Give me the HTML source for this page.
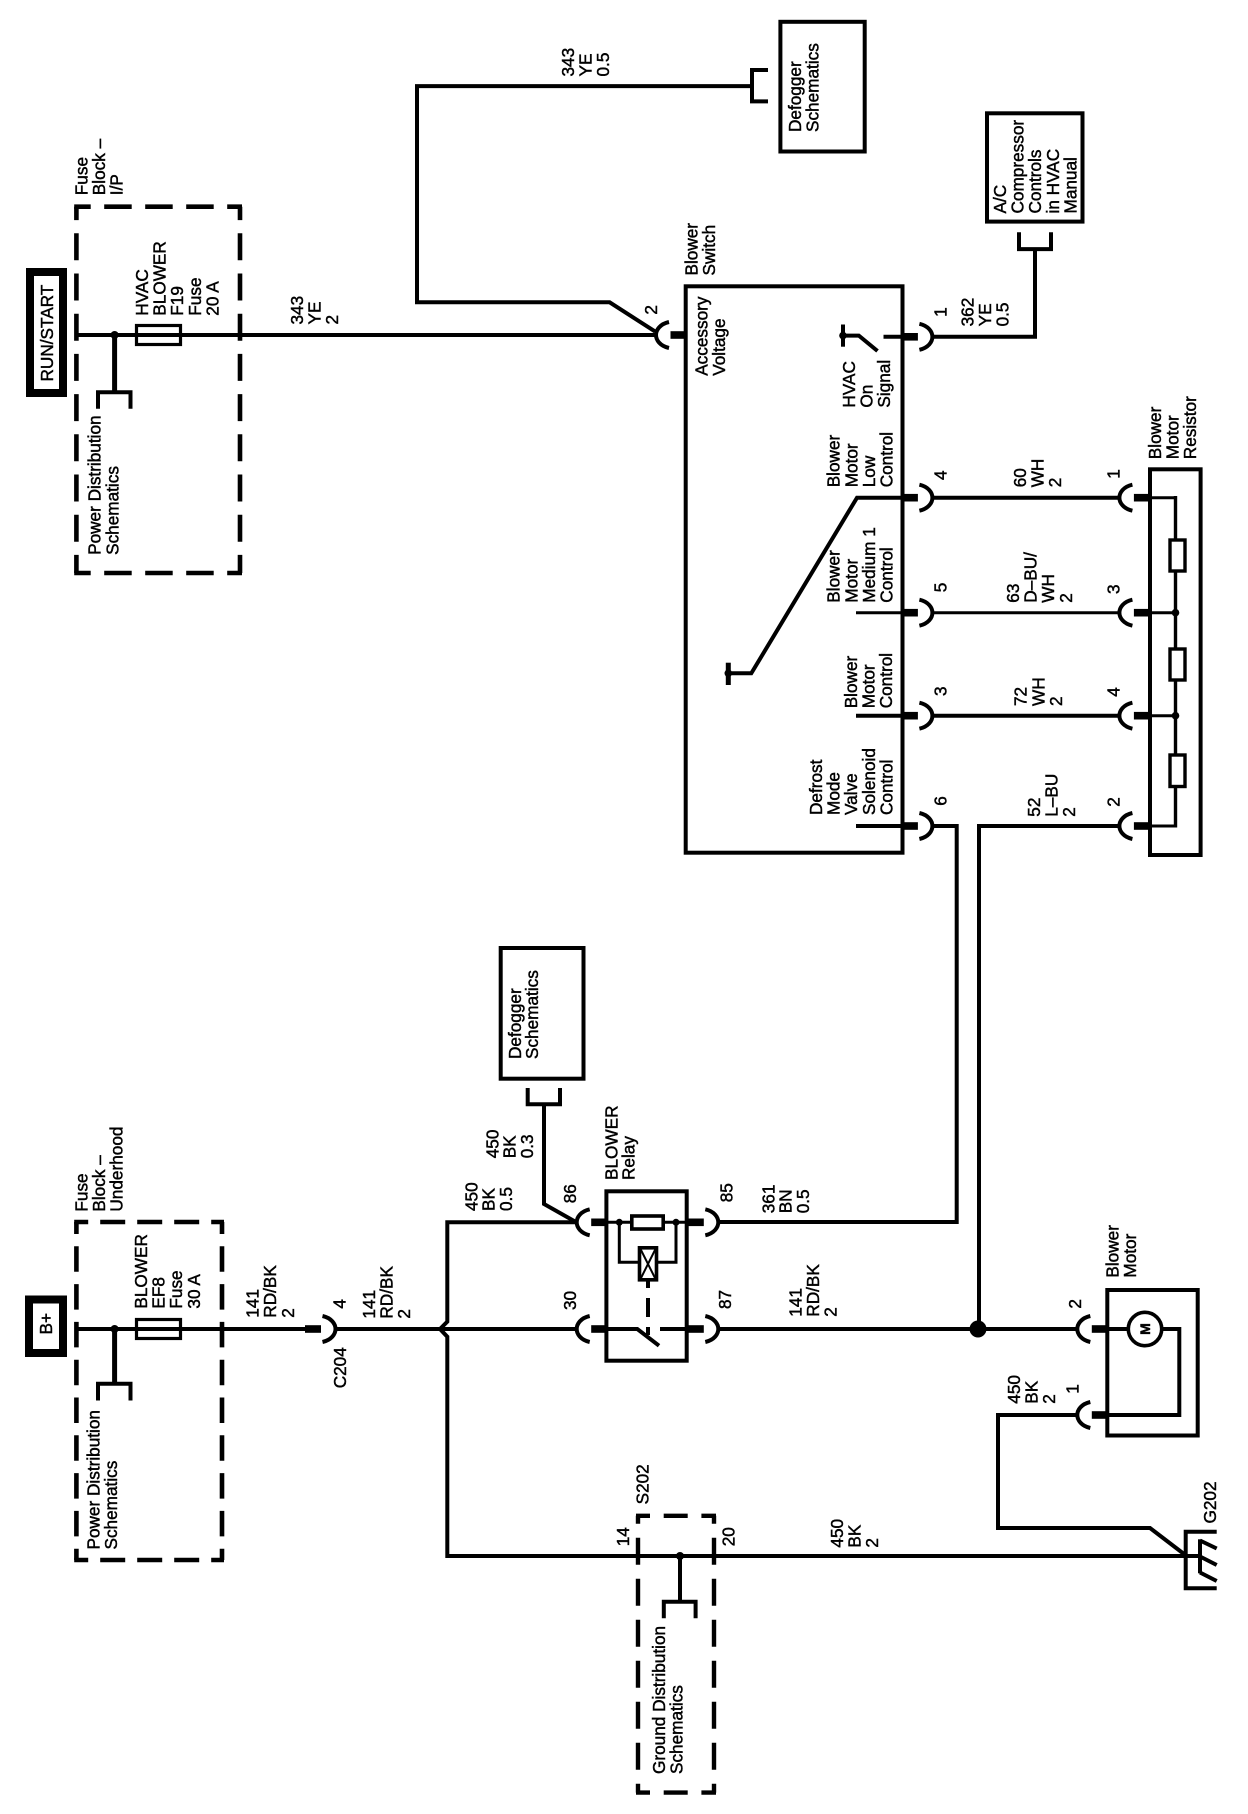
<!DOCTYPE html>
<html><head><meta charset="utf-8"><title>Blower wiring schematic</title>
<style>
html,body{margin:0;padding:0;background:#fff}
svg{display:block}
text{font-family:"Liberation Sans",sans-serif;font-size:17.2px;fill:#000;stroke:#000;stroke-width:.45}
.w{fill:none;stroke:#000;stroke-width:4;stroke-linejoin:miter}
.t{fill:none;stroke:#000;stroke-width:3}
.b{fill:#fff;stroke:#000;stroke-width:4}
</style></head><body>
<svg width="1248" height="1814" viewBox="0 0 1248 1814" xmlns="http://www.w3.org/2000/svg">
<defs>
<g id="cl"><path d="M13,-13 C4,-11 0,-5 0,0 C0,5 4,11 13,13" fill="none" stroke="#000" stroke-width="4"/><rect x="14.5" y="-3.8" width="16" height="7.6"/></g>
<g id="cr"><path d="M-13,-13 C-4,-11 0,-5 0,0 C0,5 -4,11 -13,13" fill="none" stroke="#000" stroke-width="4"/><rect x="-30.5" y="-3.8" width="16" height="7.6"/></g>
</defs>
<rect width="1248" height="1814" fill="#fff"/>

<!-- upper fuse block -->
<rect x="30" y="272" width="33" height="121" fill="#fff" stroke="#000" stroke-width="8"/>
<g class="w" style="stroke-width:4.6">
<path d="M76.4,206.7V573" stroke-dasharray="27 13.2" stroke-dashoffset="13.6"/>
<path d="M240,206.7V573" stroke-dasharray="27 13.2" stroke-dashoffset="13.6"/>
<path d="M74.2,206.7H242" stroke-dasharray="27.5 13.5" stroke-dashoffset="11"/>
<path d="M74.2,573H242" stroke-dasharray="27.5 13.5" stroke-dashoffset="11"/>
</g>
<path class="w" d="M76,335H656"/>
<rect class="b" style="stroke-width:3.2;fill:none" x="136.5" y="325.5" width="44" height="19"/>
<circle cx="114.6" cy="335" r="4"/>
<path class="w" style="stroke-width:5" d="M114.6,335V392"/>
<path class="w" d="M98,408.7V392.3H130.5V408.7"/>

<!-- top wires -->
<path class="w" d="M768,70H752V101.4H768"/>
<path class="w" d="M752,86.1H417V302.3H609.6L655,331.4"/>
<rect class="b" x="780.4" y="21.8" width="84.3" height="129.7"/>
<rect class="b" x="987" y="113.3" width="95.5" height="108.3"/>
<path class="w" d="M1019,232.3V249.1H1051V232.3"/>
<path class="w" d="M1035,249V336.8H932"/>

<!-- blower switch -->
<rect class="b" x="685.7" y="286.3" width="216.8" height="566.4"/>
<use href="#cl" x="656" y="335"/>
<use href="#cr" x="932.4" y="336.8"/>
<use href="#cr" x="932.4" y="497.7"/>
<use href="#cr" x="932.4" y="612.7"/>
<use href="#cr" x="932.4" y="715.7"/>
<use href="#cr" x="932.4" y="826"/>
<path class="w" d="M883.5,336.8H903"/>
<path class="w" d="M843,324.5V346.7"/><circle cx="843" cy="335.6" r="3.8"/>
<path class="w" d="M843,335.6H858.8L877.5,351"/>
<path class="w" d="M903,497.7H857L751.3,673.3H728"/>
<path class="w" style="stroke-width:5" d="M728.3,662.7V685"/><circle cx="728.3" cy="673.3" r="3.8"/>
<path class="t" d="M856,612.7H903"/>
<path class="w" d="M856,715.7H903"/>
<path class="w" d="M856,826H903"/>

<!-- switch to resistor wires -->
<path class="w" d="M932,497.7H1119"/>
<path class="t" d="M932,612.7H1119"/>
<path class="w" d="M932,715.7H1119"/>
<path class="w" d="M932,826H956.7V1222H718"/>
<path class="w" d="M1119,826H979V1329"/>

<!-- blower motor resistor -->
<rect class="b" x="1150" y="469.3" width="50.6" height="385.7"/>
<use href="#cl" x="1119.4" y="497.7"/>
<use href="#cl" x="1119.4" y="612.7"/>
<use href="#cl" x="1119.4" y="715.7"/>
<use href="#cl" x="1119.4" y="826"/>
<path class="t" d="M1150,497.7H1175.5"/>
<path class="t" d="M1150,612.7H1175.5"/>
<path class="t" d="M1150,715.7H1175.5"/>
<path class="t" d="M1150,826H1175.5"/>
<path class="w" style="stroke-width:3.4" d="M1175.5,496V827.5"/>
<rect class="b" style="stroke-width:3.4" x="1170" y="540" width="15" height="31"/>
<rect class="b" style="stroke-width:3.4" x="1170" y="649" width="15" height="31"/>
<rect class="b" style="stroke-width:3.4" x="1170" y="755" width="15" height="31.5"/>
<circle cx="1175.5" cy="612.7" r="3.8"/><circle cx="1175.5" cy="715.7" r="3.8"/>

<!-- lower fuse block -->
<rect x="29" y="1299.5" width="34" height="53.5" fill="#fff" stroke="#000" stroke-width="8"/>
<g class="w" style="stroke-width:4.6">
<path d="M76.4,1222V1560" stroke-dasharray="25.5 12.3" stroke-dashoffset="13.5"/>
<path d="M222,1222V1560" stroke-dasharray="25.5 12.3" stroke-dashoffset="13.5"/>
<path d="M74.2,1222H224" stroke-dasharray="25 12" stroke-dashoffset="11"/>
<path d="M74.2,1560H224" stroke-dasharray="25 12" stroke-dashoffset="11"/>
</g>
<path class="w" d="M76,1329H306"/>
<rect class="b" style="stroke-width:3.2;fill:none" x="136.5" y="1319.5" width="44" height="19"/>
<circle cx="114.6" cy="1329" r="4"/>
<path class="w" style="stroke-width:5" d="M114.6,1329V1384"/>
<path class="w" d="M98,1400.5V1383.7H130.5V1400.5"/>
<use href="#cr" x="335.5" y="1329"/>
<path class="w" d="M335.5,1329H576.7"/>
<path class="w" d="M576.7,1222.3H447.3V1321.7L440,1329L447.3,1336.7V1556H1200"/>

<!-- defogger lower -->
<rect class="b" x="500.7" y="948" width="82.8" height="130.7"/>
<path class="w" d="M527.7,1088V1104.3H560V1088"/>
<path class="w" d="M544,1104V1204L575,1221.5"/>

<!-- relay -->
<rect class="b" x="606.4" y="1191.3" width="80.3" height="169.4"/>
<use href="#cl" x="576.7" y="1222.3"/>
<use href="#cl" x="576.7" y="1329"/>
<use href="#cr" x="718.3" y="1222.3"/>
<use href="#cr" x="718.3" y="1329"/>
<path class="t" d="M606,1222.3H687"/>
<rect class="b" style="stroke-width:3.6" x="631.8" y="1216" width="31.4" height="13"/>
<circle cx="619.3" cy="1222.3" r="3.5"/><circle cx="676" cy="1222.3" r="3.5"/>
<path class="t" d="M619.3,1222.3V1262.3H676V1222.3"/>
<rect class="b" style="stroke-width:3.6" x="639.5" y="1247.8" width="17" height="32"/>
<path class="t" style="stroke-width:2" d="M640,1248L656,1280M656,1248L640,1280"/>
<path class="w" d="M648,1281V1288M648,1298V1317M648,1327V1335" style="stroke-width:4"/>
<path class="w" d="M606,1329H637.3L659,1345.7"/>
<path class="w" d="M660,1329H687"/>

<!-- motor -->
<path class="w" d="M718,1329H1078"/>
<circle cx="978" cy="1329" r="8.5"/>
<rect class="b" x="1107.3" y="1290" width="90.4" height="145.5"/>
<use href="#cl" x="1077.3" y="1329"/>
<use href="#cl" x="1077.3" y="1415"/>
<path class="w" d="M1107,1329H1129M1161,1329H1179.3V1415H1107"/>
<circle cx="1145" cy="1329" r="16.7" fill="#fff" stroke="#000" stroke-width="3.6"/>
<text transform="translate(1150,1329) rotate(-90)" text-anchor="middle" style="font-size:14px;font-weight:bold">M</text>
<path class="w" d="M1077.3,1415H998V1528H1150L1184,1554"/>

<!-- G202 -->
<path class="w" d="M1216.7,1531.7H1185.7V1588.3H1216.7"/>
<path class="w" d="M1200,1539.3V1573.3"/>
<path class="w" d="M1200,1540.5L1216.7,1548.5M1200,1556.5L1216.7,1565M1200,1572.5L1216.7,1581"/>

<!-- S202 -->
<g class="w" style="stroke-width:4.4">
<path d="M638,1515.8V1792.6" stroke-dasharray="27 14" stroke-dashoffset="19"/>
<path d="M714,1515.8V1792.6" stroke-dasharray="27 14" stroke-dashoffset="19"/>
<path d="M636,1515.8H716" stroke-dasharray="24 13.7" stroke-dashoffset="10"/>
<path d="M636,1792.6H716" stroke-dasharray="24 13.7" stroke-dashoffset="10"/>
</g>
<circle cx="680" cy="1556" r="4"/>
<path class="w" d="M680,1556V1602"/>
<path class="w" d="M663.8,1618.2V1601.8H695.6V1618.2"/>

<!-- labels -->
<text transform="translate(87.5,195.2) rotate(-90)"><tspan x="0">Fuse</tspan><tspan x="0" dy="17.6">Block –</tspan><tspan x="0" dy="17.6">I/P</tspan></text>
<text transform="translate(53,381.5) rotate(-90)">RUN/START</text>
<text transform="translate(148,315.7) rotate(-90)"><tspan x="0">HVAC</tspan><tspan x="0" dy="17.6">BLOWER</tspan><tspan x="0" dy="17.6">F19</tspan><tspan x="0" dy="17.6">Fuse</tspan><tspan x="0" dy="17.6">20 A</tspan></text>
<text transform="translate(303,324.5) rotate(-90)"><tspan x="0">343</tspan><tspan x="0" dy="17.6">YE</tspan><tspan x="0" dy="17.6">2</tspan></text>
<text transform="translate(100.7,554.9) rotate(-90)"><tspan x="0">Power Distribution</tspan><tspan x="0" dy="17.6">Schematics</tspan></text>
<text transform="translate(574,76.5) rotate(-90)"><tspan x="0">343</tspan><tspan x="0" dy="17.6">YE</tspan><tspan x="0" dy="17.6">0.5</tspan></text>
<text transform="translate(801,132) rotate(-90)"><tspan x="0">Defogger</tspan><tspan x="0" dy="17.6">Schematics</tspan></text>
<text transform="translate(1006,213.5) rotate(-90)"><tspan x="0">A/C</tspan><tspan x="0" dy="17.6">Compressor</tspan><tspan x="0" dy="17.6">Controls</tspan><tspan x="0" dy="17.6">in HVAC</tspan><tspan x="0" dy="17.6">Manual</tspan></text>
<text transform="translate(697.6,275.5) rotate(-90)"><tspan x="0">Blower</tspan><tspan x="0" dy="17.6">Switch</tspan></text>
<text transform="translate(707.6,375.8) rotate(-90)"><tspan x="0">Accessory</tspan><tspan x="0" dy="17.6">Voltage</tspan></text>
<text transform="translate(657,314.6) rotate(-90)">2</text>
<text transform="translate(946.5,316.9) rotate(-90)">1</text>
<text transform="translate(973.4,326.4) rotate(-90)"><tspan x="0">362</tspan><tspan x="0" dy="17.6">YE</tspan><tspan x="0" dy="17.6">0.5</tspan></text>
<text transform="translate(855,407.6) rotate(-90)"><tspan x="0">HVAC</tspan><tspan x="0" dy="17.6">On</tspan><tspan x="0" dy="17.6">Signal</tspan></text>
<text transform="translate(839.7,487.3) rotate(-90)"><tspan x="0">Blower</tspan><tspan x="0" dy="17.6">Motor</tspan><tspan x="0" dy="17.6">Low</tspan><tspan x="0" dy="17.6">Control</tspan></text>
<text transform="translate(839.7,602.7) rotate(-90)"><tspan x="0">Blower</tspan><tspan x="0" dy="17.6">Motor</tspan><tspan x="0" dy="17.6">Medium 1</tspan><tspan x="0" dy="17.6">Control</tspan></text>
<text transform="translate(857,708.3) rotate(-90)"><tspan x="0">Blower</tspan><tspan x="0" dy="17.6">Motor</tspan><tspan x="0" dy="17.6">Control</tspan></text>
<text transform="translate(822,815) rotate(-90)"><tspan x="0">Defrost</tspan><tspan x="0" dy="17.6">Mode</tspan><tspan x="0" dy="17.6">Valve</tspan><tspan x="0" dy="17.6">Solenoid</tspan><tspan x="0" dy="17.6">Control</tspan></text>
<text transform="translate(946.3,480) rotate(-90)">4</text>
<text transform="translate(946.3,592.3) rotate(-90)">5</text>
<text transform="translate(946.3,696) rotate(-90)">3</text>
<text transform="translate(946.3,805.7) rotate(-90)">6</text>
<text transform="translate(1119.4,478.7) rotate(-90)">1</text>
<text transform="translate(1119.4,594) rotate(-90)">3</text>
<text transform="translate(1119.4,696.7) rotate(-90)">4</text>
<text transform="translate(1119.4,806.7) rotate(-90)">2</text>
<text transform="translate(1026,487.3) rotate(-90)"><tspan x="0">60</tspan><tspan x="0" dy="17.6">WH</tspan><tspan x="0" dy="17.6">2</tspan></text>
<text transform="translate(1019,602.7) rotate(-90)"><tspan x="0">63</tspan><tspan x="0" dy="17.6">D–BU/</tspan><tspan x="0" dy="17.6">WH</tspan><tspan x="0" dy="17.6">2</tspan></text>
<text transform="translate(1026.7,706) rotate(-90)"><tspan x="0">72</tspan><tspan x="0" dy="17.6">WH</tspan><tspan x="0" dy="17.6">2</tspan></text>
<text transform="translate(1040,816.7) rotate(-90)"><tspan x="0">52</tspan><tspan x="0" dy="17.6">L–BU</tspan><tspan x="0" dy="17.6">2</tspan></text>
<text transform="translate(1161,459.2) rotate(-90)"><tspan x="0">Blower</tspan><tspan x="0" dy="17.6">Motor</tspan><tspan x="0" dy="17.6">Resistor</tspan></text>

<text transform="translate(87.5,1211.6) rotate(-90)"><tspan x="0">Fuse</tspan><tspan x="0" dy="17.6">Block –</tspan><tspan x="0" dy="17.6">Underhood</tspan></text>
<text transform="translate(52,1334.5) rotate(-90)">B+</text>
<text transform="translate(147,1308.6) rotate(-90)"><tspan x="0">BLOWER</tspan><tspan x="0" dy="17.6">EF8</tspan><tspan x="0" dy="17.6">Fuse</tspan><tspan x="0" dy="17.6">30 A</tspan></text>
<text transform="translate(99.5,1549.5) rotate(-90)"><tspan x="0">Power Distribution</tspan><tspan x="0" dy="17.6">Schematics</tspan></text>
<text transform="translate(258.6,1317.7) rotate(-90)"><tspan x="0">141</tspan><tspan x="0" dy="17.6">RD/BK</tspan><tspan x="0" dy="17.6">2</tspan></text>
<text transform="translate(345.4,1308.6) rotate(-90)">4</text>
<text transform="translate(346,1388.3) rotate(-90)">C204</text>
<text transform="translate(375,1318.6) rotate(-90)"><tspan x="0">141</tspan><tspan x="0" dy="17.6">RD/BK</tspan><tspan x="0" dy="17.6">2</tspan></text>
<text transform="translate(477.3,1211) rotate(-90)"><tspan x="0">450</tspan><tspan x="0" dy="17.4">BK</tspan><tspan x="0" dy="17.4">0.5</tspan></text>
<text transform="translate(498.3,1158.3) rotate(-90)"><tspan x="0">450</tspan><tspan x="0" dy="17.4">BK</tspan><tspan x="0" dy="17.4">0.3</tspan></text>
<text transform="translate(521,1059) rotate(-90)"><tspan x="0">Defogger</tspan><tspan x="0" dy="17.2">Schematics</tspan></text>
<text transform="translate(617.7,1180) rotate(-90)"><tspan x="0">BLOWER</tspan><tspan x="0" dy="16.8">Relay</tspan></text>
<text transform="translate(576,1203.3) rotate(-90)">86</text>
<text transform="translate(576,1310) rotate(-90)">30</text>
<text transform="translate(732.3,1202.3) rotate(-90)">85</text>
<text transform="translate(731,1309) rotate(-90)">87</text>
<text transform="translate(774.3,1213.3) rotate(-90)"><tspan x="0">361</tspan><tspan x="0" dy="17.4">BN</tspan><tspan x="0" dy="17.4">0.5</tspan></text>
<text transform="translate(801.7,1316.7) rotate(-90)"><tspan x="0">141</tspan><tspan x="0" dy="17.4">RD/BK</tspan><tspan x="0" dy="17.4">2</tspan></text>
<text transform="translate(1118.6,1277.6) rotate(-90)"><tspan x="0">Blower</tspan><tspan x="0" dy="17.6">Motor</tspan></text>
<text transform="translate(1081,1308.6) rotate(-90)">2</text>
<text transform="translate(1078.5,1393.7) rotate(-90)">1</text>
<text transform="translate(1020,1403.7) rotate(-90)"><tspan x="0">450</tspan><tspan x="0" dy="17.6">BK</tspan><tspan x="0" dy="17.6">2</tspan></text>
<text transform="translate(843,1547.6) rotate(-90)"><tspan x="0">450</tspan><tspan x="0" dy="17.6">BK</tspan><tspan x="0" dy="17.6">2</tspan></text>
<text transform="translate(648.7,1504.4) rotate(-90)">S202</text>
<text transform="translate(734.6,1546.3) rotate(-90)">20</text>
<text transform="translate(629,1546.3) rotate(-90)">14</text>
<text transform="translate(665,1774) rotate(-90)"><tspan x="0">Ground Distribution</tspan><tspan x="0" dy="17.6">Schematics</tspan></text>
<text transform="translate(1216,1523.5) rotate(-90)">G202</text>
</svg>
</body></html>
